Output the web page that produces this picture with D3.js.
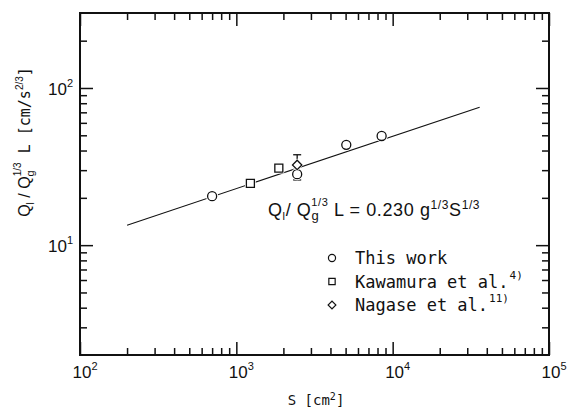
<!DOCTYPE html>
<html>
<head>
<meta charset="utf-8">
<script src="https://cdn.jsdelivr.net/npm/d3@7"></script>
<style>
  body { margin: 0; background: #fff; }
  text { fill: #111; }
</style>
</head>
<body>
<svg id="chart" width="570" height="412"></svg>
<script>
// data: [S (cm2), Ql/Qg^1/3 L]
const thisWork = [[700, 20.5], [2450, 28.3], [5050, 43.5], [8500, 49.5]];
const kawamura = [[1230, 24.7], [1870, 30.9]];
const nagase = [[2450, 32.4]];
const nagaseErr = [[2450, 26.0, 37.6]];
// correlation line Ql/Qg^1/3 L = 0.230 g^1/3 S^1/3
const fitLine = [[200, 13.4], [36000, 75.5]];

const xDecades = [2, 3, 4, 5];
const yDecades = [1, 2];
const legendLabels = ["This work", "Kawamura et al.", "Nagase et al."];
const legendRefs = ["", "4)", "11)"];

const svg = d3.select("#chart");
const x = d3.scaleLog().domain([100, 1e5]).range([80, 549]);
const y = d3.scaleLog().domain([2, 300]).range([355, 13]);

// minor ticks 2..9 of each decade
const xMinor = [];
[2, 3, 4].forEach(p => { for (let k = 2; k <= 9; k++) xMinor.push(k * Math.pow(10, p)); });
const yMinor = [];
[0, 1, 2].forEach(p => {
  for (let k = 2; k <= 9; k++) {
    let v = k * Math.pow(10, p);
    if (v > 2 && v < 300) yMinor.push(v);
  }
});
const xMajor = xDecades.map(p => Math.pow(10, p));
const yMajor = yDecades.map(p => Math.pow(10, p));

function drawAxis(axisFn, scale, vals, len, transform) {
  const g = svg.append("g")
    .attr("transform", transform)
    .call(axisFn(scale).tickValues(vals).tickSize(-len).tickSizeOuter(0).tickFormat(""));
  g.select(".domain").remove();
  g.selectAll("line").attr("stroke", "#111").attr("stroke-width", 1.5);
}

// ticks point into the frame on all four sides
drawAxis(d3.axisBottom, x, xMinor, 7, "translate(0,355)");
drawAxis(d3.axisBottom, x, xMajor, 13, "translate(0,355)");
drawAxis(d3.axisTop, x, xMinor, 7, "translate(0,13)");
drawAxis(d3.axisTop, x, xMajor, 13, "translate(0,13)");
drawAxis(d3.axisLeft, y, yMinor, 7, "translate(80,0)");
drawAxis(d3.axisLeft, y, yMajor, 13, "translate(80,0)");
drawAxis(d3.axisRight, y, yMinor, 7, "translate(549,0)");
drawAxis(d3.axisRight, y, yMajor, 13, "translate(549,0)");

svg.append("rect")
  .attr("x", 80).attr("y", 13)
  .attr("width", 549 - 80).attr("height", 355 - 13)
  .attr("fill", "none").attr("stroke", "#111").attr("stroke-width", 2);

// tick labels
const font = "Liberation Sans, Arial, sans-serif";
const mono = "DejaVu Sans Mono, Liberation Mono, monospace";
xDecades.forEach(p => {
  const t = svg.append("text")
    .attr("x", x(Math.pow(10, p)) + 5).attr("y", 378)
    .attr("text-anchor", "middle")
    .attr("font-family", font).attr("font-size", 17);
  t.append("tspan").text("10");
  t.append("tspan").attr("dy", -8).attr("font-size", 11).text(p);
});
yDecades.forEach(p => {
  const t = svg.append("text")
    .attr("x", 73).attr("y", y(Math.pow(10, p)) + 7)
    .attr("text-anchor", "end")
    .attr("font-family", font).attr("font-size", 17);
  t.append("tspan").text("10");
  t.append("tspan").attr("dy", -8).attr("font-size", 11).text(p);
});

// axis titles
const xt = svg.append("text")
  .attr("x", 316).attr("y", 405)
  .attr("text-anchor", "middle")
  .attr("font-family", mono).attr("font-size", 14);
xt.append("tspan").text("S [cm");
xt.append("tspan").attr("dy", -5).attr("font-size", 10).text("2");
xt.append("tspan").attr("dy", 5).text("]");

const yt = svg.append("text")
  .attr("transform", "translate(30,142) rotate(-90)")
  .attr("text-anchor", "middle")
  .attr("font-family", font).attr("font-size", 16);
yt.append("tspan").text("Q");
yt.append("tspan").attr("dy", 4).attr("font-size", 10).text("l");
yt.append("tspan").attr("dy", -4).text(" / Q");
yt.append("tspan").attr("dy", 4).attr("font-size", 11).text("g");
yt.append("tspan").attr("dx", -6).attr("dy", -13).attr("font-size", 10).text("1/3");
yt.append("tspan").attr("dy", 9).attr("font-family", mono).attr("font-size", 15).text(" L  [cm/s");
yt.append("tspan").attr("dy", -7).attr("font-size", 10).text("2/3");
yt.append("tspan").attr("dy", 7).attr("font-family", mono).attr("font-size", 15).text("]");

// correlation line
svg.append("path")
  .datum(fitLine)
  .attr("d", d3.line().x(d => x(d[0])).y(d => y(d[1])))
  .attr("fill", "none").attr("stroke", "#111").attr("stroke-width", 1.1);

// error bar on the Nagase point
const eb = svg.append("g").selectAll("g").data(nagaseErr).join("g")
  .attr("stroke", "#111").attr("stroke-width", 1.3);
eb.append("line")
  .attr("x1", d => x(d[0])).attr("x2", d => x(d[0]))
  .attr("y1", d => y(d[1])).attr("y2", d => y(d[2]));
eb.append("line")
  .attr("x1", d => x(d[0]) - 4).attr("x2", d => x(d[0]) + 4)
  .attr("y1", d => y(d[1])).attr("y2", d => y(d[1]));
eb.append("line")
  .attr("x1", d => x(d[0]) - 4).attr("x2", d => x(d[0]) + 4)
  .attr("y1", d => y(d[2])).attr("y2", d => y(d[2]));

const symCircle = d3.symbol().type(d3.symbolCircle);
const symSquare = d3.symbol().type(d3.symbolSquare);
// diamond drawn as a square turned 45 degrees
const markerDefs = [
  { sym: symCircle, rot: 0 },
  { sym: symSquare, rot: 0 },
  { sym: symSquare, rot: 45 }
];

function markers(data, def, size) {
  // white halo so the line appears broken at each marker
  svg.append("g").selectAll("path").data(data).join("path")
    .attr("transform", d => `translate(${x(d[0])},${y(d[1])}) rotate(${def.rot})`)
    .attr("d", def.sym.size(size * 1.8)())
    .attr("fill", "#fff");
  svg.append("g").selectAll("path").data(data).join("path")
    .attr("transform", d => `translate(${x(d[0])},${y(d[1])}) rotate(${def.rot})`)
    .attr("d", def.sym.size(size)())
    .attr("fill", "#fff").attr("stroke", "#111").attr("stroke-width", 1.3);
}
markers(thisWork, markerDefs[0], 64);
markers(kawamura, markerDefs[1], 64);
markers(nagase, markerDefs[2], 44);

// equation label
const eq = svg.append("text")
  .attr("x", 268).attr("y", 216)
  .attr("font-family", font).attr("font-size", 18)
  .attr("letter-spacing", 0.6);
eq.append("tspan").text("Q");
eq.append("tspan").attr("dy", 4).attr("font-size", 11).text("l");
eq.append("tspan").attr("dy", -4).text("/ Q");
eq.append("tspan").attr("dy", 4).attr("font-size", 13).text("g");
eq.append("tspan").attr("dx", -8).attr("dy", -14).attr("font-size", 11).text("1/3");
eq.append("tspan").attr("dy", 10).text(" L = 0.230 g");
eq.append("tspan").attr("dy", -7).attr("font-size", 12).text("1/3");
eq.append("tspan").attr("dy", 7).text("S");
eq.append("tspan").attr("dy", -7).attr("font-size", 12).text("1/3");

// legend
const leg = svg.append("g").selectAll("g").data(legendLabels).join("g")
  .attr("transform", (d, i) => `translate(332,${258 + i * 23.5})`);
leg.append("path")
  .attr("transform", (d, i) => `rotate(${markerDefs[i].rot})`)
  .attr("d", (d, i) => markerDefs[i].sym.size(i === 2 ? 30 : 40)())
  .attr("fill", "#fff").attr("stroke", "#111").attr("stroke-width", 1.2);
const lt = leg.append("text")
  .attr("x", 23).attr("y", 6)
  .attr("font-family", mono).attr("font-size", 17);
lt.append("tspan").text(d => d);
lt.append("tspan").attr("dx", 1).attr("dy", -9).attr("font-size", 11).text((d, i) => legendRefs[i]);
</script>
</body>
</html>
